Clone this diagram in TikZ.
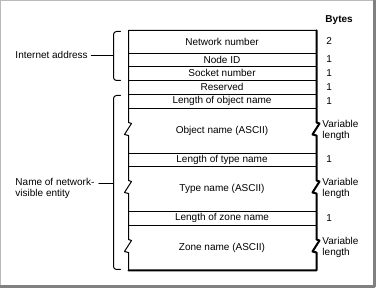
\documentclass[tikz,border=0pt]{standalone}
\usepackage{fontspec}
\setmainfont{Liberation Sans}
\usepackage{tikz}
\usetikzlibrary{positioning, calc}
\tikzset{every node/.style={font=\fontsize{10}{11}\selectfont, inner sep=1pt}, every path/.style={line cap=round, line join=round, line width=1pt}}
\tikzset{field/.style={anchor=center}, bytes/.style={anchor=west}, varlen/.style={anchor=west, align=left}, thickedge/.style={line width=2pt}}

\begin{document}
\begin{tikzpicture}[x=1pt, y=-1pt]
    \useasboundingbox (0,0) rectangle (376,288);
    % frame
    \draw [gray!55, line width=1pt] (0.5,287) -- (0.5,0.5) -- (375,0.5);
    \draw [gray, line width=2.5pt] (374.7,0) -- (374.7,286.5) -- (0,286.5);

    % record outline
    \draw (316.5,30.5) -- (128.5,30.5) -- (128.5,122.5) -- ++(3,1) -- ++(-7,11) -- ++(4,1)
        -- (128.5,180.5) -- ++(3,1) -- ++(-7,11) -- ++(4,1)
        -- (128.5,239.5) -- ++(3,1) -- ++(-7,11) -- ++(4,1) -- (128.5,270.5);
    \draw [thickedge] (316.5,30.5) -- (316.5,122.5) -- ++(3,1) -- ++(-7,11) -- ++(4,1)
        -- (316.5,180.5) -- ++(3,1) -- ++(-7,11) -- ++(4,1)
        -- (316.5,239.5) -- ++(3,1) -- ++(-7,11) -- ++(4,1) -- (316.5,270.5) -- (128.5,270.5);
    \foreach \y in {53,66,80,94,108,153,166,211,225}
        \draw (128.5,\y+0.5) -- (316.5,\y+0.5);

    % fields
    \node [field] (netnum) at (222,41.5) {Network number};
    \node [field] (nodeid) at (222,59.5) {Node ID};
    \node [field] (socket) at (222,73) {Socket number};
    \node [field] (resv) at (222,87) {Reserved};
    \node [field] (lenobj) at (222,101) {Length of object name};
    \node [field] (objname) at (222,131) {Object name (ASCII)};
    \node [field] (lentype) at (222,159.5) {Length of type name};
    \node [field] (typename) at (222,189) {Type name (ASCII)};
    \node [field] (lenzone) at (222,218) {Length of zone name};
    \node [field] (zonename) at (222,248) {Zone name (ASCII)};

    % byte counts
    \node [bytes, font=\fontsize{10}{11}\selectfont\bfseries] (bytes) at (324,20) {Bytes};
    \node [bytes] (bnet) at (325,41.5) {2};
    \node [bytes] (bnode) at (325,59.5) {1};
    \node [bytes] (bsock) at (325,73) {1};
    \node [bytes] (bresv) at (325,87) {1};
    \node [bytes] (blenobj) at (325,101) {1};
    \node [varlen] (vobj) at (321,130.5) {Variable\\length};
    \node [bytes] (blentype) at (325,159.5) {1};
    \node [varlen] (vtype) at (321,188.5) {Variable\\length};
    \node [bytes] (blenzone) at (325,218) {1};
    \node [varlen] (vzone) at (321,247.5) {Variable\\length};

    % brackets
    \draw [rounded corners=3pt] (120.5,31.5) -- (113.5,31.5) -- (113.5,80.5) -- (120.5,80.5);
    \draw [rounded corners=3pt] (120.5,95.5) -- (113.5,95.5) -- (113.5,269.5) -- (120.5,269.5);
    \coordinate (inetbr) at (113.5,55.5);
    \coordinate (entbr) at (113.5,183.5);

    % group labels
    \node [anchor=west] (inet) at (14,55) {Internet address};
    \draw [shorten <=2pt] (inet.east |- inetbr) -- (inetbr);
    \node [anchor=west, align=left] (entity) at (14,188) {Name of network-\\visible entity};
    \draw [shorten <=3pt] (entity.east |- entbr) -- (entbr);
\end{tikzpicture}
\end{document}
